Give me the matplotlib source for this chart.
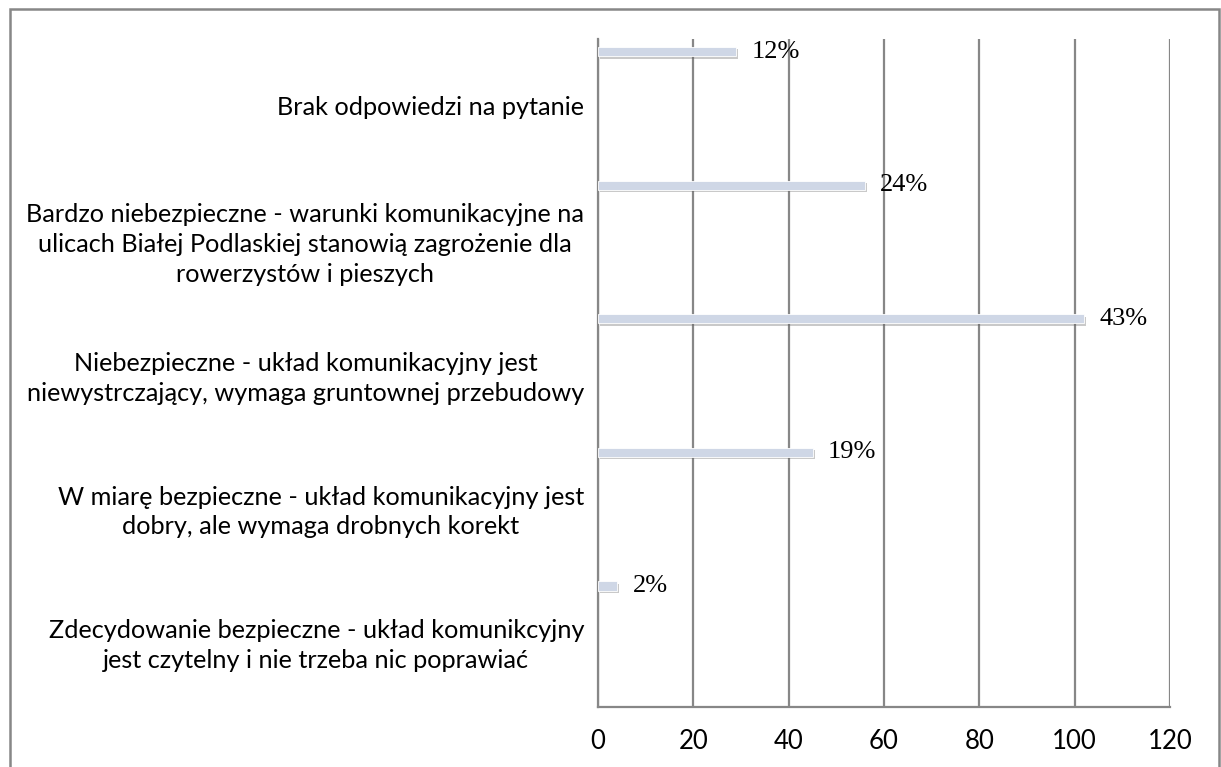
import matplotlib
matplotlib.use("Agg")
import matplotlib.pyplot as plt
import matplotlib.patheffects as pe
from matplotlib.patches import Rectangle

categories = [
    "Brak odpowiedzi na pytanie",
    "Bardzo niebezpieczne - warunki komunikacyjne na\nulicach Białej Podlaskiej stanowią zagrożenie dla\nrowerzystów i pieszych",
    "Niebezpieczne - układ komunikacyjny jest\nniewystrczający, wymaga gruntownej przebudowy",
    "W miarę bezpieczne - układ komunikacyjny jest\ndobry, ale wymaga drobnych korekt",
    "Zdecydowanie bezpieczne - układ komunikcyjny\njest czytelny i nie trzeba nic poprawiać",
]
counts = [29, 56, 102, 45, 4]
pct_labels = ["12%", "24%", "43%", "19%", "2%"]
xticks = [0, 20, 40, 60, 80, 100, 120]

fig = plt.figure(figsize=(12.21, 7.67), dpi=100)
ax = fig.add_axes([0.4898, 0.0782, 0.9582 - 0.4898, 0.9492 - 0.0782])

grey = "#878787"
bar_h = 0.068
ypos = [i - 0.5 + 0.094 for i in range(len(counts))]
bars = ax.barh(ypos, counts, height=bar_h, color="#cfd7e6",
               edgecolor="white", linewidth=0.6, zorder=3)
for b in bars:
    b.set_path_effects([pe.SimplePatchShadow(offset=(1.5, -1.8), shadow_rgbFace="#666666", alpha=0.35),
                        pe.Normal()])

for y, v, lab in zip(ypos, counts, pct_labels):
    ax.annotate(lab, (v, y), xytext=(11, 0), textcoords="offset points",
                ha="left", va="center", fontsize=19, family="Liberation Serif",
                color="black", zorder=4)

ax.set_xlim(0, 120)
ax.set_ylim(len(counts) - 0.5, -0.5)
ax.set_xticks(xticks)
ax.set_xticklabels([str(t) for t in xticks], fontsize=18.5, family="Lato")
ax.set_yticks(range(len(categories)))
ax.set_yticklabels(categories, fontsize=18.2, family="Lato", multialignment="center",
                   linespacing=1.36)
ax.tick_params(axis="both", length=0)
ax.tick_params(axis="x", pad=16)
ax.tick_params(axis="y", pad=10)

ax.grid(axis="x", color=grey, linewidth=1.6, zorder=0)
ax.set_axisbelow(True)
for s in ["top", "right"]:
    ax.spines[s].set_visible(False)
for s in ["left", "bottom"]:
    ax.spines[s].set_color(grey)
    ax.spines[s].set_linewidth(1.6)

# outer chart frame (bottom edge falls outside the image)
fig.patches.append(Rectangle((10 / 1221, -0.05), (1219 - 10) / 1221, 1 - 9 / 767 + 0.05,
                             transform=fig.transFigure, fill=False,
                             edgecolor=grey, linewidth=1.8))

fig.savefig("out.png", dpi=100)
